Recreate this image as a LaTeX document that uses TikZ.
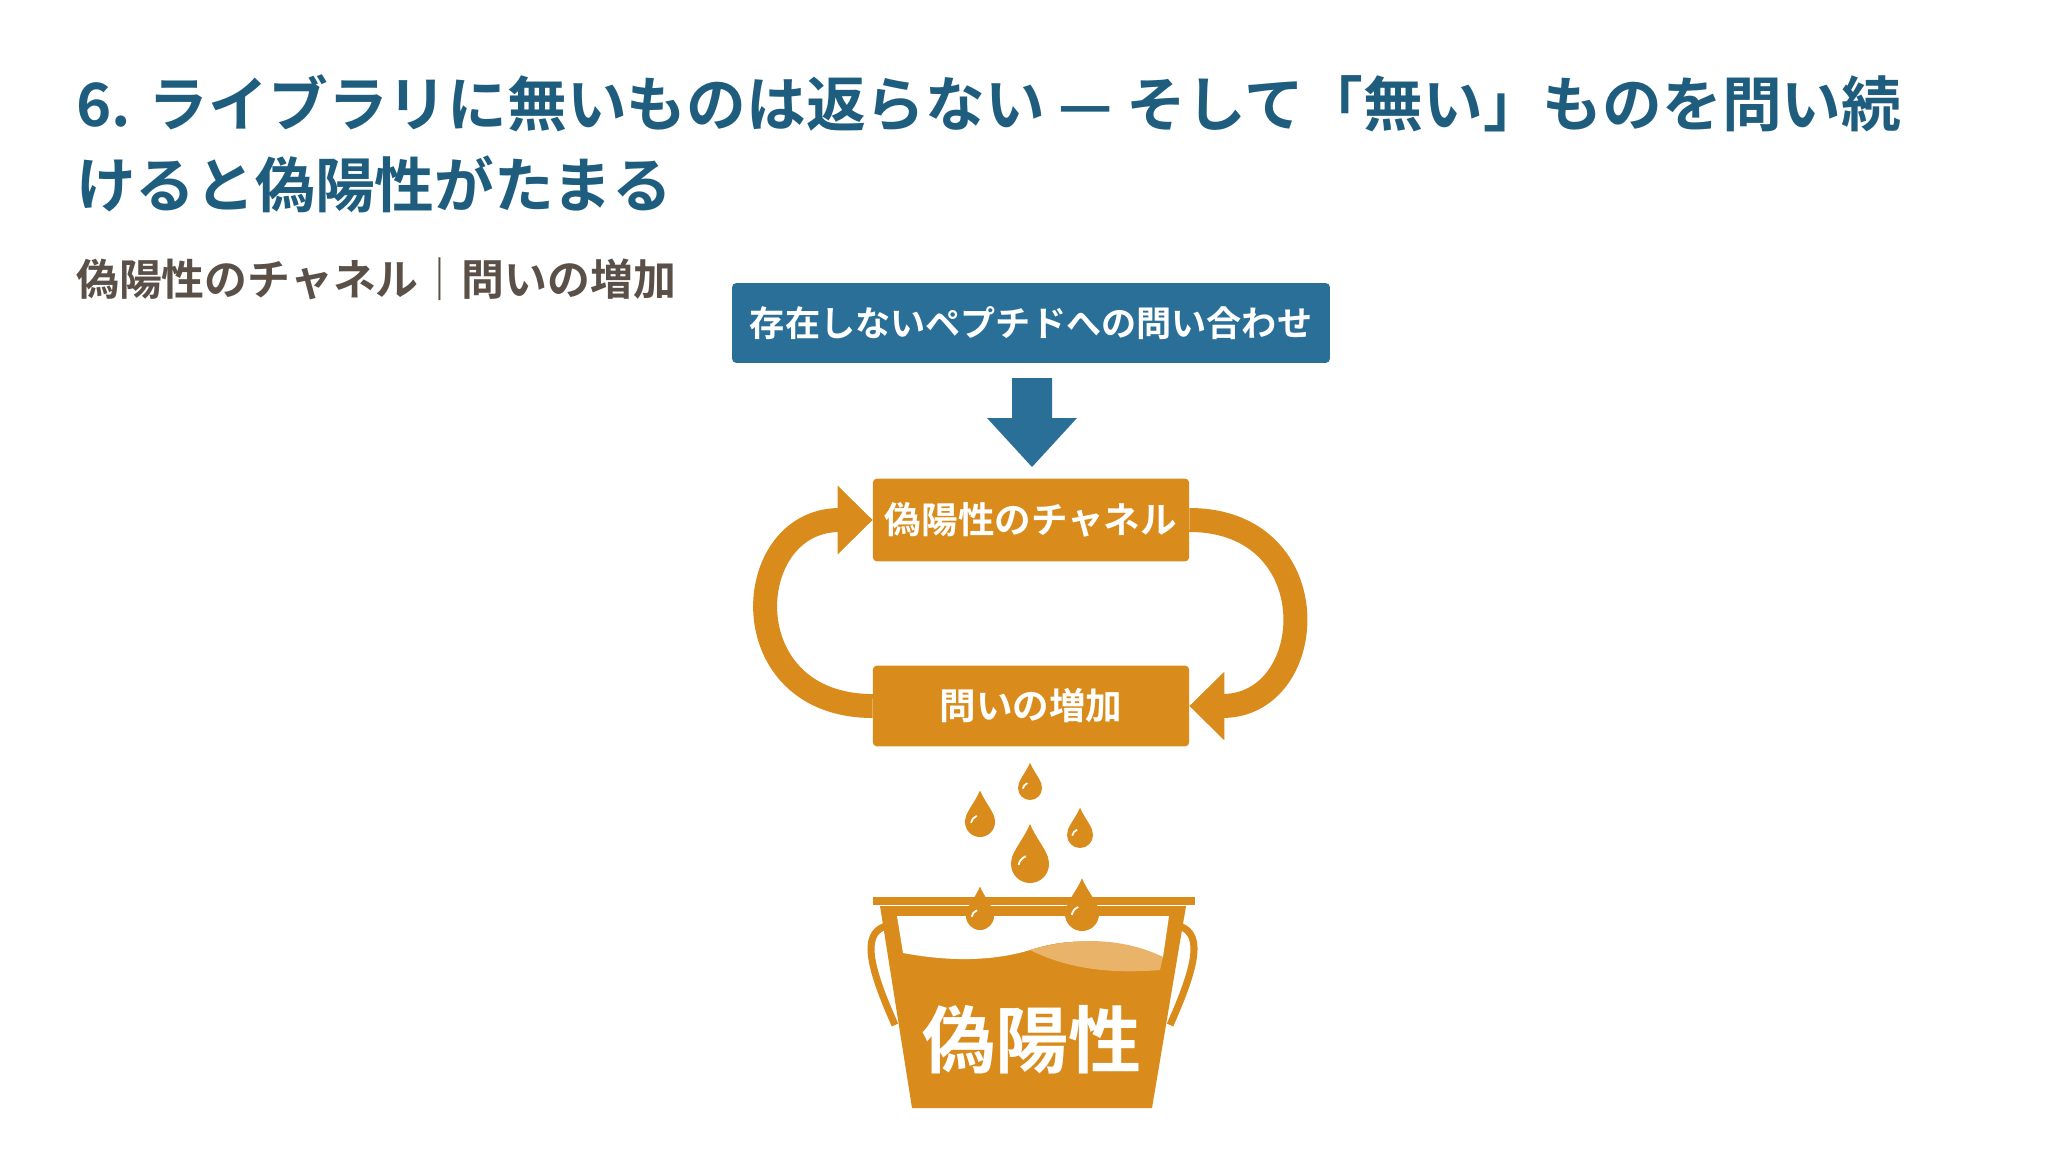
\documentclass[tikz,border=0pt]{standalone}
\usepackage{fontspec}
\setmainfont{Noto Sans CJK JP}[BoldFont={Noto Sans CJK JP Bold}]
\usetikzlibrary{arrows.meta}
\definecolor{ttl}{HTML}{1F5D7E}
\definecolor{sub}{HTML}{5A5048}
\definecolor{blu}{HTML}{2A6F97}
\definecolor{org}{HTML}{D98B1C}
\definecolor{liq}{HTML}{E9B36A}
\begin{document}
\begin{tikzpicture}[x=0.05cm,y=-0.05cm,
  bbox/.style={fill=blu,rounded corners=6pt,text=white,font=\bfseries\fontsize{50}{56}\selectfont,inner sep=0},
  obox/.style={fill=org,rounded corners=6pt,text=white,font=\bfseries\fontsize{52}{58}\selectfont,inner sep=0},
  loop/.style={draw=org,line width=24*1.42pt,-{Triangle[length=50pt,width=95pt]}},
  drop/.pic={\fill[org] (0,-2.1) .. controls (0.3,-1.4) and (0.75,-0.9) .. (0.95,-0.35) -- (-0.95,-0.35) .. controls (-0.75,-0.9) and (-0.3,-1.4) .. (0,-2.1) -- cycle; \fill[org] (0,0) circle[radius=1];
    \draw[white,line width=2.5pt] (-0.6,0.05) arc[start angle=190,end angle=250,radius=0.6];}]
\useasboundingbox (0,0) rectangle (2064,1152);
\fill[white] (0,0) rectangle (2064,1152);
\node[anchor=west,text=ttl,font=\bfseries\fontsize{85}{90}\selectfont,inner sep=0] (t1) at (76,103) {6. ライブラリに無いものは返らない — そして「無い」ものを問い続};
\node[anchor=west,text=ttl,font=\bfseries\fontsize{85}{90}\selectfont,inner sep=0] (t2) at (76,184) {けると偽陽性がたまる};
\node[anchor=west,text=sub,font=\bfseries\fontsize{61}{66}\selectfont,inner sep=0] (st) at (76,279) {偽陽性のチャネル｜問いの増加};
\node[bbox,minimum width=599*1.42pt,minimum height=80*1.42pt] (q) at (1031,323) {存在しないペプチドへの問い合わせ};
\node[obox,minimum width=317*1.42pt,minimum height=83*1.42pt] (c) at (1031,520) {偽陽性のチャネル};
\node[obox,minimum width=317*1.42pt,minimum height=81*1.42pt] (a) at (1031,706) {問いの増加};
\fill[blu] (1012,378) -- (1052,378) -- (1052,418) -- (1077,418) -- (1032,467) -- (987,418) -- (1012,418) -- cycle;
\draw[loop] (a.west) .. controls (730,706) and (740,520) .. (c.west);
\draw[loop] (c.east) .. controls (1330,520) and (1320,706) .. (a.east);
% drops
\pic[scale=12] at (1030,788) {drop};
\pic[scale=15] at (980,822) {drop};
\pic[scale=13] at (1080,835) {drop};
\pic[scale=19] at (1030,864) {drop};
% bucket
\fill[org] (880,906) -- (1186,906) -- (1152,1108) -- (912,1108) -- cycle;
\fill[white] (897,916) -- (1169,916) -- (1163,957) .. controls (1100,935) and (1060,940) .. (1030,950) .. controls (980,965) and (930,958) .. (903,953) -- cycle;
\fill[liq] (1030,950) .. controls (1070,938) and (1120,936) .. (1163,957) -- (1160,970) .. controls (1100,975) and (1060,965) .. cycle;
\draw[org,line width=12pt] (873,901) -- (1195,901);
\draw[org,line width=10pt] (890,925) .. controls (862,930) and (866,960) .. (895,1025);
\draw[org,line width=10pt] (1175,925) .. controls (1203,930) and (1199,960) .. (1170,1025);
\pic[scale=14] at (980,916) {drop};
\pic[scale=17] at (1082,914) {drop};
\node[text=white,font=\bfseries\fontsize{104}{110}\selectfont,inner sep=0] (fp) at (1032,1040) {偽陽性};
\end{tikzpicture}
\end{document}
